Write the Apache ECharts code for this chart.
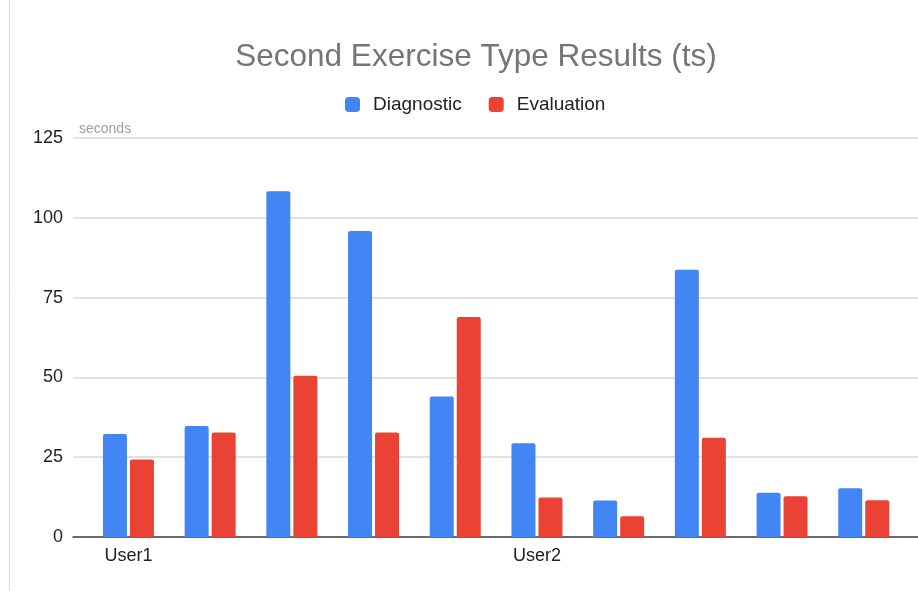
<!DOCTYPE html>
<html>
<head>
<meta charset="utf-8">
<style>
  html, body { margin: 0; padding: 0; background: #fff; }
  #chart { width: 918px; height: 591px; }
</style>
<script src="https://cdn.jsdelivr.net/npm/echarts@6/dist/echarts.min.js"></script>
</head>
<body>
<div id="chart"></div>
<script>
const categories = ["User1", "", "", "", "", "User2", "", "", "", ""];
const diagnostic = [32.3, 34.8, 108.3, 95.9, 44.0, 29.4, 11.4, 83.7, 13.9, 15.3];
const evaluation = [24.3, 32.7, 50.5, 32.7, 68.9, 12.4, 6.5, 31.1, 12.8, 11.5];
const yTicks = { min: 0, max: 125, interval: 25 };

const FONT = '"Liberation Sans", Arial, sans-serif';
const chart = echarts.init(document.getElementById('chart'));

const option = {
  animation: false,
  backgroundColor: '#ffffff',
  title: {
    text: 'Second Exercise Type Results (ts)',
    left: 471, top: 36, textAlign: 'center',
    textStyle: { fontFamily: FONT, fontSize: 31.5, fontWeight: 'normal', color: '#757575' }
  },
  legend: {
    data: ['Diagnostic', 'Evaluation'],
    left: 340, top: 90,
    icon: 'roundRect', itemWidth: 15, itemHeight: 15, itemGap: 27,
    textStyle: { fontFamily: FONT, fontSize: 19, color: '#222', padding: [0, 0, 0, 8] }
  },
  grid: [
    { left: 73, right: 0, top: 138, bottom: 54 },
    { left: 87.6, right: 13.4, top: 138, bottom: 54 }
  ],
  xAxis: [
    {
      gridIndex: 0, type: 'value', min: 0, max: 1,
      axisLine: { show: true, lineStyle: { color: '#444', width: 1.5 } },
      axisTick: { show: false }, axisLabel: { show: false }, splitLine: { show: false }
    },
    {
      gridIndex: 1, type: 'category', data: categories,
      axisLine: { show: false }, axisTick: { show: false },
      axisLabel: { interval: 0, margin: 10, fontFamily: FONT, fontSize: 18, color: '#222' }
    }
  ],
  yAxis: [
    {
      gridIndex: 0, type: 'value', min: yTicks.min, max: yTicks.max, interval: yTicks.interval,
      name: 'seconds', nameLocation: 'end', nameGap: 2,
      nameTextStyle: { fontFamily: FONT, fontSize: 14, color: '#9e9e9e', align: 'left', padding: [0, 0, 0, 6] },
      axisLine: { show: false }, axisTick: { show: false },
      axisLabel: { margin: 10, fontFamily: FONT, fontSize: 18, color: '#222' },
      splitLine: { lineStyle: { color: '#d9d9d9', width: 1.5 } }
    },
    {
      gridIndex: 1, type: 'value', min: yTicks.min, max: yTicks.max, interval: yTicks.interval,
      show: false, splitLine: { show: false }
    }
  ],
  series: [
    {
      name: 'Diagnostic', type: 'bar', xAxisIndex: 1, yAxisIndex: 1,
      data: diagnostic, barWidth: 24, barGap: '12.5%',
      itemStyle: { color: '#4285F4', borderRadius: [2, 2, 0, 0] }
    },
    {
      name: 'Evaluation', type: 'bar', xAxisIndex: 1, yAxisIndex: 1,
      data: evaluation, barWidth: 24, barGap: '12.5%',
      itemStyle: { color: '#EA4335', borderRadius: [2, 2, 0, 0] }
    }
  ],
  graphic: [
    { type: 'line', shape: { x1: 9.5, y1: 0, x2: 9.5, y2: 591 }, style: { stroke: '#dadada', lineWidth: 1 } }
  ]
};
chart.setOption(option);
</script>
</body>
</html>
